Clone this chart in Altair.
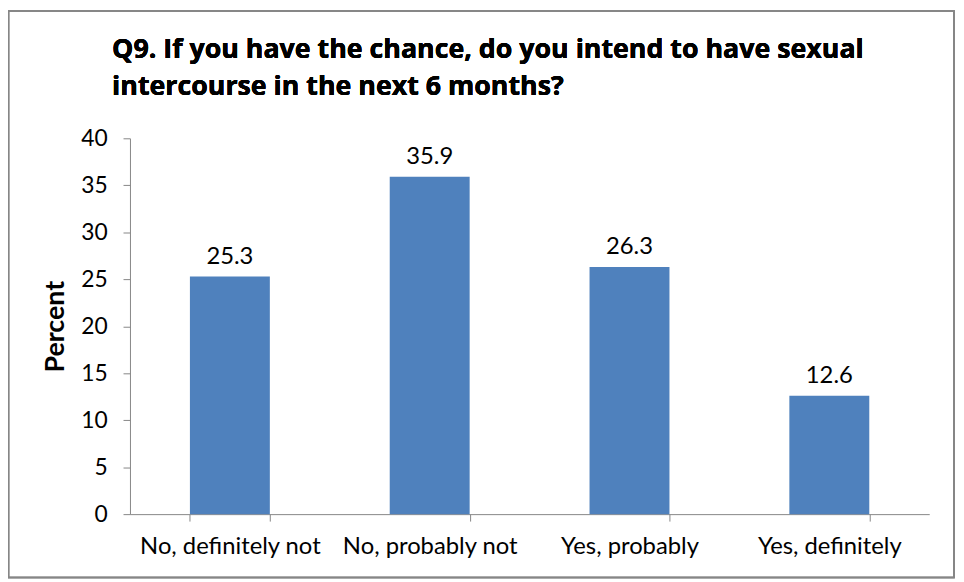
import altair as alt
import pandas as pd

categories = ["No, definitely not", "No, probably not", "Yes, probably", "Yes, definitely"]
percents = [25.3, 35.9, 26.3, 12.6]
y_ticks = [0, 5, 10, 15, 20, 25, 30, 35, 40]
title_text = "Q9. If you have the chance, do you intend to have sexual\nintercourse in the next 6 months?"

df = pd.DataFrame({"cat": categories, "pct": percents})
FONT = "Lato"
AXIS_GRAY = "#868686"

x_enc = alt.X("cat:N", sort=categories, title=None,
              scale=alt.Scale(paddingInner=0.6, paddingOuter=0.3),
              axis=alt.Axis(labelAngle=0, labelFontSize=24, labelFont=FONT, labelColor="black",
                            labelPadding=14, tickBand="extent", tickSize=7, domainColor=AXIS_GRAY,
                            tickColor=AXIS_GRAY, labelLimit=300))
y_enc = alt.Y("pct:Q", title="Percent",
              scale=alt.Scale(domain=[0, 40], nice=False),
              axis=alt.Axis(values=y_ticks, grid=False, labelFontSize=23, labelFont=FONT,
                            labelColor="black", labelPadding=16, tickSize=7,
                            domainColor=AXIS_GRAY, tickColor=AXIS_GRAY,
                            titleFont=FONT, titleFontSize=27, titleFontWeight="bold",
                            titleColor="black", titlePadding=11))

bars = alt.Chart(df).mark_bar(color="#4F81BD").encode(x=x_enc, y=y_enc)
labels = alt.Chart(df).mark_text(dy=-13, baseline="alphabetic", fontSize=24, font=FONT,
                                 color="black").encode(
    x=alt.X("cat:N", sort=categories), y="pct:Q", text=alt.Text("pct:Q", format=".1f"))

border = alt.Chart(df).mark_rect(fill=None, stroke=AXIS_GRAY, strokeWidth=1.5).encode(
    x=alt.value(-122.5), x2=alt.value(831), y=alt.value(-128.5), y2=alt.value(443))

title = alt.Chart(df).mark_text(
    align="left", baseline="alphabetic", fontSize=27, font="Open Sans", fontWeight="bold",
    color="black", lineBreak="\n", lineHeight=37, text=title_text).encode(
    x=alt.value(-18), y=alt.value(-80.5))

chart = alt.layer(border, bars, labels, title).properties(
    width=806, height=379,
    autosize=alt.AutoSizeParams(type="none"),
    padding={"left": 123, "top": 129, "right": 27, "bottom": 64},
).configure_view(stroke=None)

chart.save("out.html", embed_options={"renderer": "svg", "actions": False})
